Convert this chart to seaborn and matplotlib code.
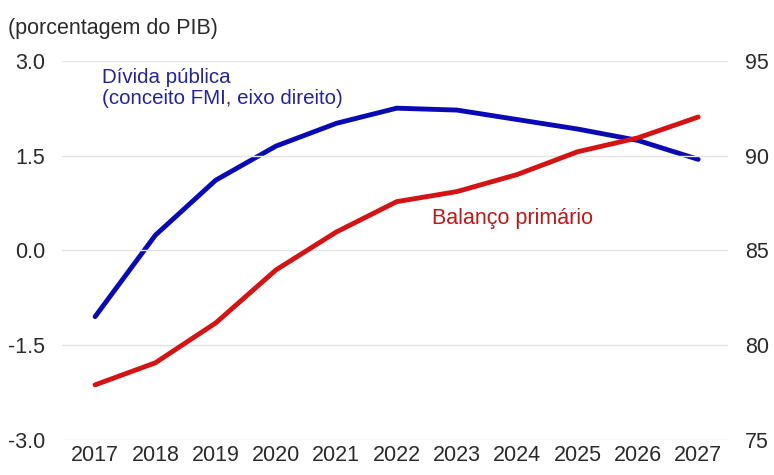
import matplotlib
matplotlib.use("Agg")
import matplotlib.pyplot as plt
import seaborn as sns
import pandas as pd

years = [2017, 2018, 2019, 2020, 2021, 2022, 2023, 2024, 2025, 2026, 2027]
balanco_primario = [-2.13, -1.78, -1.15, -0.31, 0.29, 0.77, 0.93, 1.20, 1.56, 1.78, 2.11]
divida_publica = [81.5, 85.8, 88.7, 90.5, 91.7, 92.5, 92.4, 91.9, 91.4, 90.8, 89.8]
left_ticks = [-3.0, -1.5, 0.0, 1.5, 3.0]
right_ticks = [75, 80, 85, 90, 95]

sns.set_theme(style="white")
plt.rcParams['font.family'] = ['Liberation Sans', 'DejaVu Sans']

df = pd.DataFrame({"ano": years, "balanco": balanco_primario, "divida": divida_publica})

FS = 15.5
fig = plt.figure(figsize=(7.74, 4.75), dpi=100)
ax = fig.add_axes([0.080, 0.074, 0.861, 0.798])
ax2 = ax.twinx()

sns.lineplot(data=df, x="ano", y="balanco", ax=ax, color="#d41414", linewidth=3.5, zorder=3)
sns.lineplot(data=df, x="ano", y="divida", ax=ax2, color="#0a0ab4", linewidth=3.5, zorder=3)

ax.set_ylim(-3.0, 3.0)
ax2.set_ylim(75, 95)
ax.set_xlim(2016.45, 2027.5)
ax.set_yticks(left_ticks)
ax.set_yticklabels([f"{v:.1f}" for v in left_ticks])
ax2.set_yticks(right_ticks)
ax2.set_yticklabels([str(v) for v in right_ticks])
ax.set_xticks(years)
ax.set_xticklabels([str(y) for y in years])

ax.grid(axis="y", color="#e4e4e4", linewidth=1.0)
ax.set_axisbelow(True)
for a in (ax, ax2):
    a.set_xlabel("")
    a.set_ylabel("")
    for s in a.spines.values():
        s.set_visible(False)
    a.tick_params(axis="both", length=0, labelsize=FS, colors="#2a2a2a")
ax.tick_params(axis="y", pad=12)
ax2.tick_params(axis="y", pad=12)
ax.tick_params(axis="x", pad=4)

ax.set_zorder(ax2.get_zorder() + 1)
ax.patch.set_visible(False)

fig.text(0.010, 0.941, "(porcentagem do PIB)", fontsize=FS, color="#2a2a2a", va="center")
ax.text(2017.12, 2.88, "Dívida pública\n(conceito FMI, eixo direito)", fontsize=14.8,
        color="#24249a", va="top", ha="left", linespacing=1.1)
ax.text(2022.58, 0.50, "Balanço primário", fontsize=FS, color="#c01818", va="center", ha="left")

fig.savefig("out.png", dpi=100, facecolor="white")
